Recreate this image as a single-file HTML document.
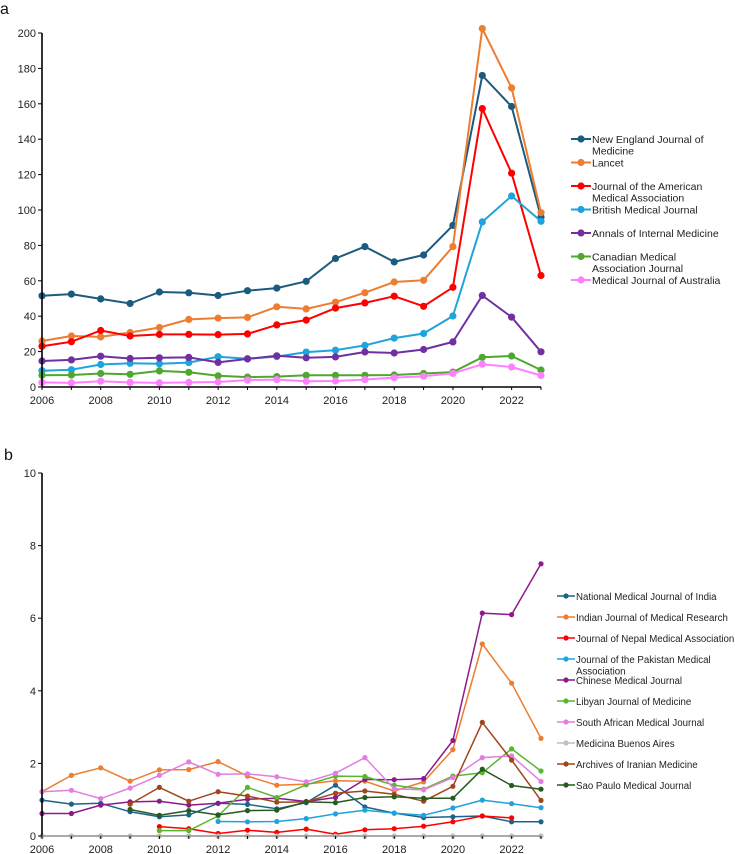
<!DOCTYPE html>
<html><head><meta charset="utf-8">
<style>
html,body{margin:0;padding:0;background:#fff;}
svg{display:block;font-family:"Liberation Sans",Arial,sans-serif;}
</style></head>
<body>
<svg id="chart" width="735" height="854" viewBox="0 0 735 854" xmlns="http://www.w3.org/2000/svg">
<text x="0" y="14" font-size="16" fill="#111">a</text>
<text x="4" y="460" font-size="16" fill="#111">b</text>
<g id="pa"></g>
<g id="pb"></g>
</svg>
<script>
const years = [2006,2007,2008,2009,2010,2011,2012,2013,2014,2015,2016,2017,2018,2019,2020,2021,2022,2023];
const aNames = ["New England Journal of Medicine","Lancet","Journal of the American Medical Association","British Medical Journal","Annals of Internal Medicine","Canadian Medical Association Journal","Medical Journal of Australia"];
const aNEJM = [51.5,52.5,49.8,47.2,53.7,53.2,51.7,54.4,55.9,59.7,72.6,79.3,70.7,74.6,91.3,176,158.5,96];
const aLancet = [26,28.8,28.3,30.8,33.6,38.2,38.9,39.3,45.3,44.1,47.9,53.3,59.3,60.3,79.3,202.5,169,98.5];
const aJAMA = [23,25.6,31.9,28.8,29.7,29.7,29.6,30,35.1,37.8,44.6,47.5,51.3,45.6,56.3,157.3,120.8,63];
const aBMJ = [9.2,9.8,12.7,13.4,13.1,13.8,17.1,16,17.2,19.7,20.8,23.5,27.6,30.2,40.1,93.3,107.9,93.6];
const aAnnals = [14.7,15.3,17.4,16.1,16.5,16.7,13.9,15.9,17.6,16.5,17,19.8,19.2,21.2,25.5,51.7,39.5,19.9];
const aCMAJ = [6.6,6.8,7.6,7.2,9.1,8.3,6.3,5.6,5.9,6.6,6.6,6.6,6.8,7.6,8.4,16.8,17.5,9.6];
const aMJA = [2.6,2.3,3.3,2.6,2.3,2.6,2.8,3.9,4.2,3.2,3.4,4.2,5.3,6.1,7.7,12.9,11.3,6.5];
const aTicks = [0,20,40,60,80,100,120,140,160,180,200];

const bNames = ["National Medical Journal of India","Indian Journal of Medical Research","Journal of Nepal Medical Association","Journal of the Pakistan Medical Association","Chinese Medical Journal","Libyan Journal of Medicine","South African Medical Journal","Medicina Buenos Aires","Archives of Iranian Medicine","Sao Paulo Medical Journal"];
const bNMJI = [0.99,0.88,0.90,0.67,0.53,0.58,0.90,0.87,0.75,0.92,1.40,0.80,0.63,0.51,0.53,0.55,0.39,0.39];
const bIJMR = [1.22,1.67,1.88,1.51,1.82,1.83,2.05,1.65,1.40,1.43,1.52,1.51,1.24,1.49,2.38,5.29,4.21,2.69];
const bNepal = [null,null,null,null,0.26,0.20,0.07,0.16,0.10,0.19,0.05,0.17,0.20,0.27,0.39,0.55,0.50,null];
const bPakistan = [null,null,null,null,null,null,0.40,0.39,0.40,0.48,0.61,0.71,0.63,0.57,0.77,0.99,0.89,0.78];
const bChinese = [0.62,0.62,0.85,0.94,0.96,0.85,0.90,1.01,1.04,0.95,1.06,1.56,1.55,1.58,2.63,6.14,6.10,7.50];
const bLibyan = [null,null,null,null,0.15,0.15,0.55,1.34,1.06,1.41,1.65,1.64,1.40,1.29,1.65,1.74,2.40,1.79];
const bSAMJ = [1.22,1.26,1.03,1.32,1.67,2.04,1.70,1.71,1.63,1.49,1.73,2.16,1.30,1.27,1.61,2.16,2.21,1.50];
const bMedicina = [0,0,0,0,0,0,0,0,0,0,0,0,0,0,0,0,0,0];
const bIranian = [null,null,null,0.88,1.34,0.96,1.22,1.10,0.93,0.94,1.18,1.24,1.15,0.96,1.37,3.13,2.09,0.98];
const bSaoPaulo = [null,null,null,0.73,0.57,0.70,0.58,0.70,0.71,0.94,0.92,1.06,1.08,1.04,1.04,1.84,1.39,1.29];
const bTicks = [0,2,4,6,8,10];

const NS="http://www.w3.org/2000/svg";
function mk(parent,tag,attrs){const e=document.createElementNS(NS,tag);for(const k in attrs)e.setAttribute(k,attrs[k]);parent.appendChild(e);return e;}

function drawPanel(g,cfg){
  const X0=42,X1=541;
  const xs=y=>X0+(y-years[0])/(years[years.length-1]-years[0])*(X1-X0);
  const ys=v=>cfg.y0+(v-cfg.vmin)/(cfg.vmax-cfg.vmin)*(cfg.ytop-cfg.y0);
  cfg.series.forEach((s,si)=>{
    let d="";let pen=false;
    s.vals.forEach((v,i)=>{
      if(v===null){pen=false;return;}
      d+=(pen?"L":"M")+xs(years[i]).toFixed(1)+","+ys(v).toFixed(1);pen=true;
    });
    const p=mk(g,"path",{d:d,fill:"none",stroke:s.color,"stroke-width":cfg.lw,"stroke-linejoin":"round"});
    
    
    s.vals.forEach((v,i)=>{
      if(v===null)return;
      const c=mk(g,"circle",{cx:xs(years[i]).toFixed(1),cy:ys(v).toFixed(1),r:cfg.mr,fill:s.color});
      
      
    });
  });
  const ya=mk(g,"line",{x1:X0,y1:ys(cfg.vmax),x2:X0,y2:cfg.y0,stroke:"#000","stroke-width":1.6});
  
  
  const xa=mk(g,"line",{x1:X0,y1:cfg.y0,x2:X1,y2:cfg.y0,stroke:cfg.xaxisColor,"stroke-width":1.6});
  
  
  cfg.ticks.forEach(t=>{
    const y=ys(t);
    const tl=mk(g,"line",{x1:X0-4,y1:y,x2:X0,y2:y,stroke:"#000","stroke-width":1});
    
    
    const tx=mk(g,"text",{x:X0-6,y:y+4,"font-size":11,"text-anchor":"end",fill:"#222"});
    tx.textContent=t;
    
    
  });
  years.forEach((yr,i)=>{
    const x=xs(yr);
    const tl=mk(g,"line",{x1:x,y1:cfg.y0,x2:x,y2:cfg.y0+3,stroke:"#000","stroke-width":1});
    
    
    if(yr%2===0){
      const tx=mk(g,"text",{x:x,y:cfg.y0+17,"font-size":11,"text-anchor":"middle",fill:"#222"});
      tx.textContent=yr;
      
      
    }
  });
  let ly=cfg.legY;
  cfg.series.forEach((s,si)=>{
    const lines=cfg.legLines[si];
    const l=mk(g,"line",{x1:cfg.legX,y1:ly,x2:cfg.legX+cfg.legW,y2:ly,stroke:s.color,"stroke-width":cfg.lw});
    
    
    const c=mk(g,"circle",{cx:cfg.legX+cfg.legW/2,cy:ly,r:cfg.mr,fill:s.color});
    
    
    lines.forEach((ln,k)=>{
      const t=mk(g,"text",{x:cfg.legX+cfg.legW+1,y:ly+4+k*11.5,"font-size":cfg.lfs,fill:"#222"});
      t.textContent=ln;
      
      
    });
    ly+=cfg.legStep;
  });
}

drawPanel(document.getElementById('pa'),{
  y0:387,ytop:33,vmin:0,vmax:200,ticks:aTicks,lw:2,mr:3.6,xaxisColor:"#000",
  legX:571,legW:20,legY:139,legStep:23.5,lfs:10.5,
  legLines:[["New England Journal of","Medicine"],["Lancet"],["Journal of the American","Medical Association"],["British Medical Journal"],["Annals of Internal Medicine"],["Canadian Medical","Association Journal"],["Medical Journal of Australia"]],
  series:[
    {key:"nejm",vals:aNEJM,color:"#1b5b7d"},
    {key:"lancet",vals:aLancet,color:"#ed7d31"},
    {key:"jama",vals:aJAMA,color:"#ff0000"},
    {key:"bmj",vals:aBMJ,color:"#1fa3dd"},
    {key:"annals",vals:aAnnals,color:"#7030a0"},
    {key:"cmaj",vals:aCMAJ,color:"#4ea72e"},
    {key:"mja",vals:aMJA,color:"#ff80ff"}
  ]
});
drawPanel(document.getElementById('pb'),{
  y0:836,ytop:473,vmin:0,vmax:10,ticks:bTicks,lw:1.5,mr:2.6,xaxisColor:"#999",
  legX:557,legW:18,legY:596,legStep:21,lfs:9.7,
  legLines:[["National Medical Journal of India"],["Indian Journal of Medical Research"],["Journal of Nepal Medical Association"],["Journal of the Pakistan Medical","Association"],["Chinese Medical Journal"],["Libyan Journal of Medicine"],["South African Medical Journal"],["Medicina Buenos Aires"],["Archives of Iranian Medicine"],["Sao Paulo Medical Journal"]],
  series:[
    {key:"nmji",vals:bNMJI,color:"#1b6488"},
    {key:"ijmr",vals:bIJMR,color:"#ed7d31"},
    {key:"nepal",vals:bNepal,color:"#ff0000"},
    {key:"pakistan",vals:bPakistan,color:"#1fa3dd"},
    {key:"chinese",vals:bChinese,color:"#8b1a8b"},
    {key:"libyan",vals:bLibyan,color:"#5ab630"},
    {key:"samj",vals:bSAMJ,color:"#e37ee0"},
    {key:"medicina",vals:bMedicina,color:"#c0c0c0"},
    {key:"iranian",vals:bIranian,color:"#a0461b"},
    {key:"saopaulo",vals:bSaoPaulo,color:"#265a1f"}
  ]
});
</script>
</body></html>
